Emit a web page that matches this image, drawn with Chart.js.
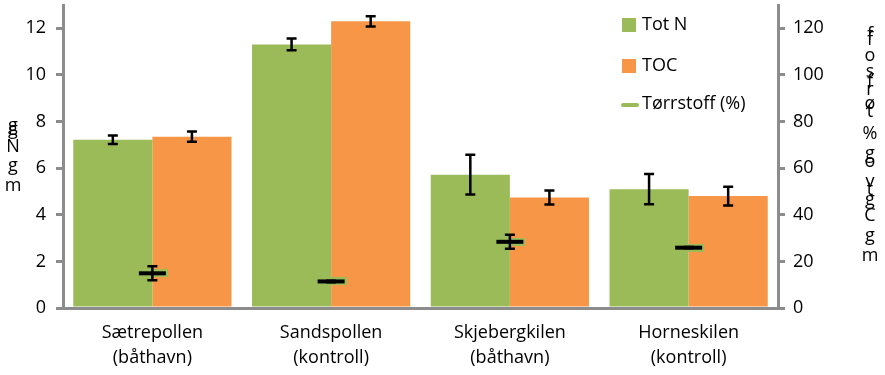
<!DOCTYPE html>
<html>
<head>
<meta charset="utf-8">
<script src="https://cdn.jsdelivr.net/npm/chart.js@4/dist/chart.umd.min.js"></script>
<style>
  html, body { margin: 0; padding: 0; background: #fff; }
  #wrap { width: 885px; height: 375px; }
</style>
</head>
<body>
<div id="wrap"><canvas id="chart"></canvas></div>
<script>
const sites = [['Sætrepollen', '(båthavn)'], ['Sandspollen', '(kontroll)'], ['Skjebergkilen', '(båthavn)'], ['Horneskilen', '(kontroll)']];
const totN = [7.22, 11.31, 5.72, 5.1];
const totNErr = [0.18, 0.25, 0.85, 0.65];
const toc = [7.35, 12.3, 4.74, 4.8];
const tocErr = [0.22, 0.22, 0.3, 0.4];
const torrstoff = [14.9, 11.4, 28.4, 25.9];
const torrstoffErr = [3, 0.3, 3, 0.3];
const leftMax = 13, leftStep = 2;
const rightMax = 130, rightStep = 20;

const GREEN = '#9BBB59';
const ORANGE = '#F79646';
const AXIS = '#8C8C8C';
const FONT = '"Open Sans", Lato, sans-serif';

// marker for Tørrstoff: black dash with green rim
const dash = document.createElement('canvas');
dash.width = 31; dash.height = 8;
const dctx = dash.getContext('2d');
dctx.fillStyle = GREEN;
dctx.fillRect(0, 0, 31, 8);
dctx.fillStyle = '#000';
dctx.fillRect(2, 2, 27, 4);

const errors = [totNErr, tocErr, torrstoffErr];

const errorBars = {
  id: 'errorBars',
  afterDatasetsDraw(chart) {
    const c = chart.ctx;
    c.save();
    c.strokeStyle = '#000';
    c.lineWidth = 2.5;
    chart.data.datasets.forEach((ds, i) => {
      const meta = chart.getDatasetMeta(i);
      const scale = chart.scales[meta.yAxisID];
      meta.data.forEach((el, j) => {
        const v = ds.data[j], e = errors[i][j];
        const y1 = scale.getPixelForValue(v + e);
        const y2 = scale.getPixelForValue(v - e);
        const x = el.x;
        c.beginPath();
        c.moveTo(x, y1); c.lineTo(x, y2);
        c.moveTo(x - 5, y1); c.lineTo(x + 5, y1);
        c.moveTo(x - 5, y2); c.lineTo(x + 5, y2);
        c.stroke();
      });
    });
    c.restore();
  }
};

// legend and the (garbled) stacked axis titles
const extras = {
  id: 'extras',
  afterDraw(chart) {
    const c = chart.ctx;
    c.save();
    c.font = '18px ' + FONT;
    c.fillStyle = '#000';
    c.textBaseline = 'middle';
    c.textAlign = 'left';
    const lx = 622, items = [
      { label: 'Tot N', color: GREEN, type: 'box', y: 25 },
      { label: 'TOC', color: ORANGE, type: 'box', y: 66 },
      { label: 'Tørrstoff (%)', color: GREEN, type: 'line', y: 104 }
    ];
    items.forEach(it => {
      if (it.type === 'box') {
        c.fillStyle = it.color;
        c.fillRect(lx, it.y - 7, 14, 14);
      } else {
        c.strokeStyle = it.color;
        c.lineWidth = 4;
        c.lineCap = 'round';
        c.beginPath();
        c.moveTo(lx + 1, it.y + 1); c.lineTo(lx + 15, it.y + 1);
        c.stroke();
      }
      c.fillStyle = '#000';
      c.fillText(it.label, lx + 20, it.y);
    });

    c.textAlign = 'center';
    c.font = '18px ' + FONT;
    [['g', 126], ['g', 130], ['N', 147], ['g', 166], ['m', 186]].forEach(([t, y]) => c.fillText(t, 13, y));
    [['f', 35], ['f', 40], ['o', 56], ['s', 72], ['f', 82], ['r', 90], ['ø', 104], ['t', 112], ['%', 134],
     ['g', 154], ['o', 162], ['v', 182], ['t', 190], ['g', 200], ['C', 216], ['g', 236], ['m', 256]]
      .forEach(([t, y]) => c.fillText(t, 870, y));
    c.restore();
  }
};

new Chart(document.getElementById('chart'), {
  type: 'bar',
  data: {
    labels: sites,
    datasets: [
      { label: 'Tot N', data: totN, backgroundColor: GREEN, yAxisID: 'y', order: 1,
        categoryPercentage: 0.885, barPercentage: 1 },
      { label: 'TOC', data: toc, backgroundColor: ORANGE, yAxisID: 'y', order: 1,
        categoryPercentage: 0.885, barPercentage: 1 },
      { label: 'Tørrstoff (%)', type: 'line', data: torrstoff, yAxisID: 'y1', order: 0,
        showLine: false, pointStyle: dash, pointRadius: 15, pointHoverRadius: 15,
        borderColor: GREEN, backgroundColor: GREEN }
    ]
  },
  options: {
    responsive: true,
    maintainAspectRatio: false,
    animation: false,
    layout: { autoPadding: false, padding: { top: 5, left: 0, right: 0, bottom: 0 } },
    plugins: { legend: { display: false }, tooltip: { enabled: false } },
    scales: {
      x: {
        grid: { display: false, drawTicks: false },
        border: { color: AXIS, width: 3 },
        ticks: { color: '#000', font: { family: FONT, size: 18, lineHeight: 1.4 }, padding: 12, maxRotation: 0 },
        afterFit: s => { s.height = 67; s.paddingLeft = 0; s.paddingRight = 0; }
      },
      y: {
        position: 'left',
        min: 0, max: leftMax,
        grid: { drawOnChartArea: false, tickLength: 7, color: AXIS, lineWidth: 3 },
        border: { color: AXIS, width: 3 },
        ticks: { stepSize: leftStep, color: '#000', font: { family: FONT, size: 18 }, padding: 10 },
        afterBuildTicks: s => { s.ticks = s.ticks.filter(t => t.value <= 12); },
        afterFit: s => { s.width = 63; s.paddingTop = 0; s.paddingBottom = 0; }
      },
      y1: {
        position: 'right',
        min: 0, max: rightMax,
        grid: { drawOnChartArea: false, tickLength: 7, color: AXIS, lineWidth: 3 },
        border: { color: AXIS, width: 3 },
        ticks: { stepSize: rightStep, color: '#000', font: { family: FONT, size: 18 }, padding: 8 },
        afterBuildTicks: s => { s.ticks = s.ticks.filter(t => t.value <= 120); },
        afterFit: s => { s.width = 107; s.paddingTop = 0; s.paddingBottom = 0; }
      }
    }
  },
  plugins: [errorBars, extras]
});
</script>
</body>
</html>
